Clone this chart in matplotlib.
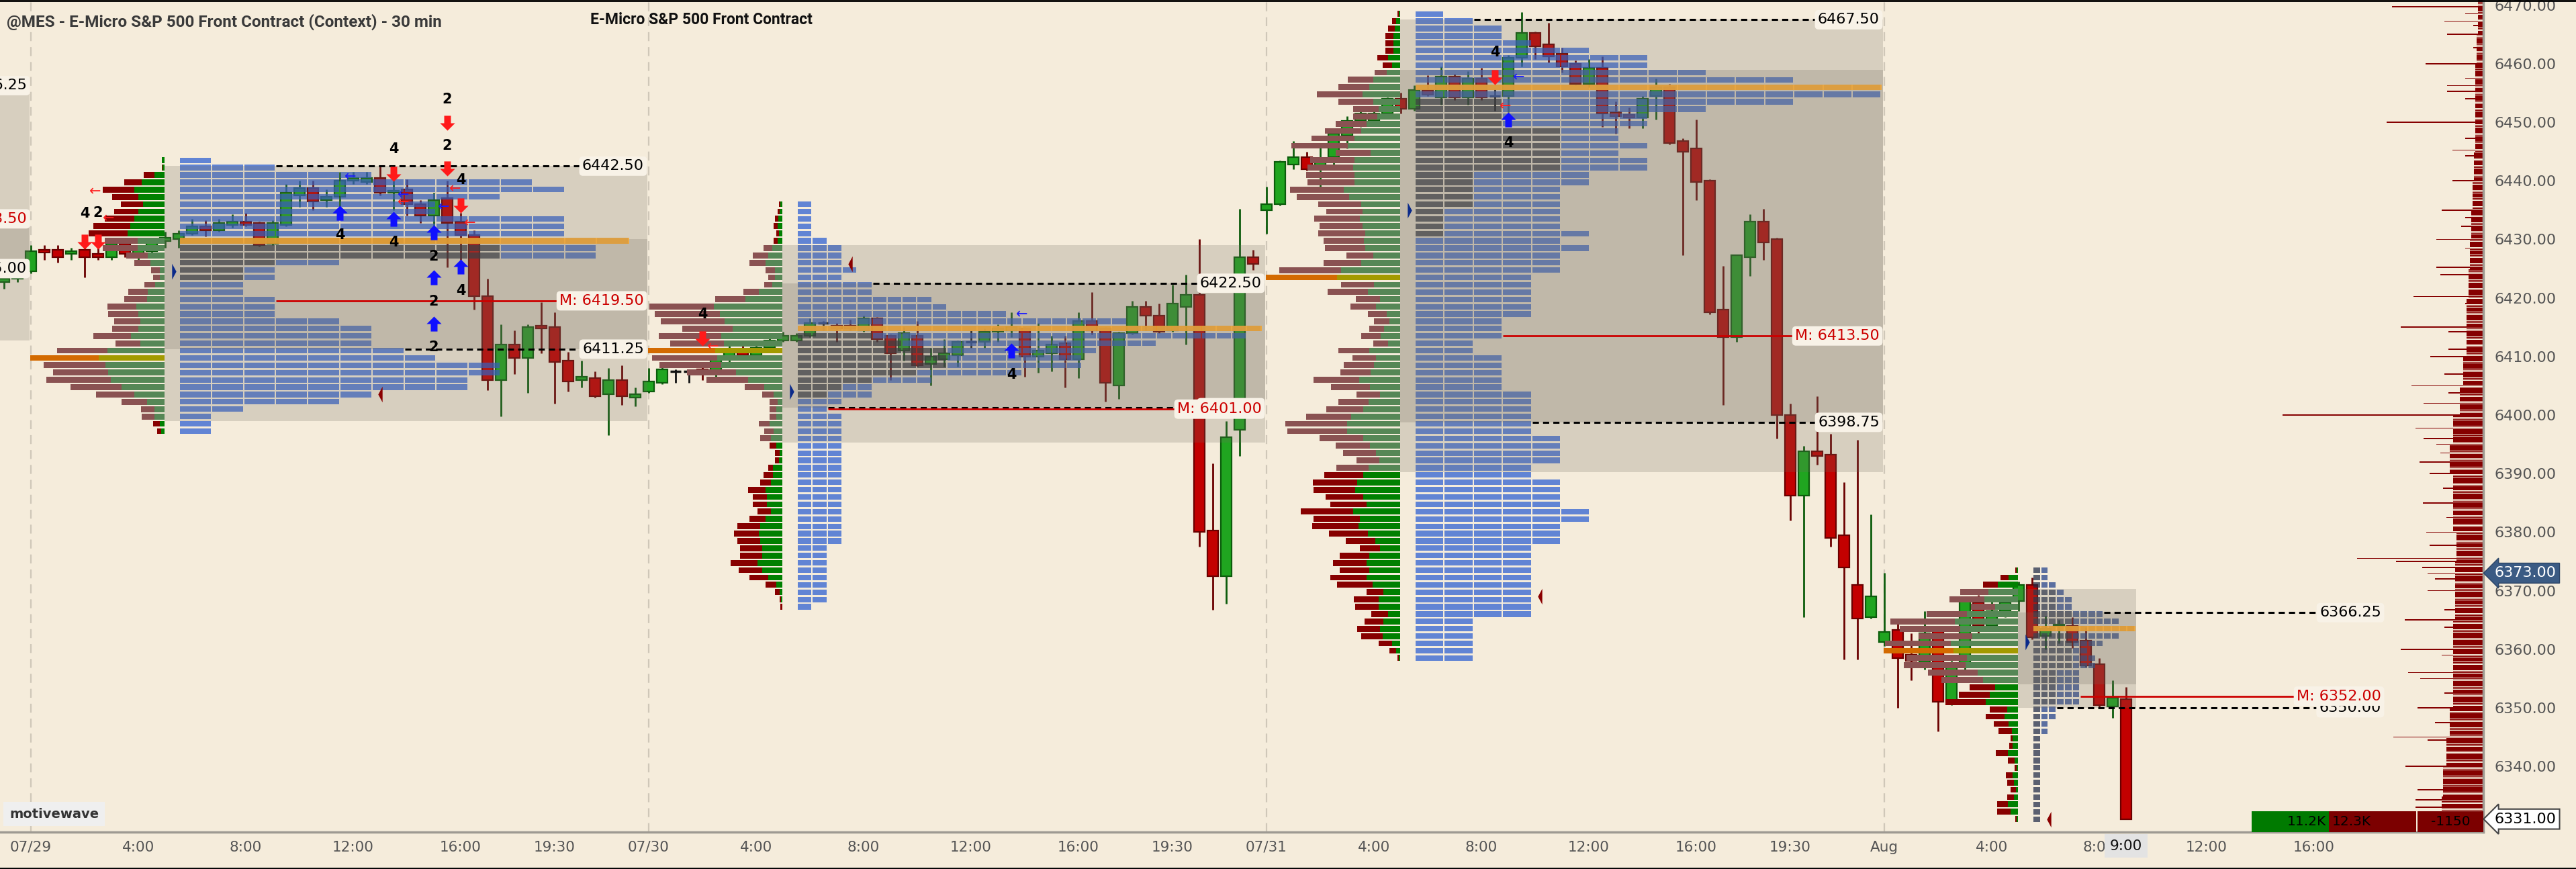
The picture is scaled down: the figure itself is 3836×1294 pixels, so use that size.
import matplotlib
matplotlib.use('Agg')
import matplotlib.pyplot as plt
from matplotlib.path import Path
from matplotlib.patches import Rectangle
from matplotlib.lines import Line2D
from matplotlib.transforms import blended_transform_factory

plt.rcParams['font.family'] = ['DejaVu Sans']

# ======================= DATA =======================
SESSION_START = [-46, 0, 46, 92, 138]          # bar index of each session open (30-min bars)

# candles: (open, high, low, close)
S0_T = [-2, -1]
S0_OHLC = [(6422.75, 6423.5, 6421.5, 6423.25), (6423.25, 6425.0, 6422.75, 6424.5)]

S1_OHLC = [
 (6424.5,6429.0,6424.25,6428.0),(6428.25,6429.0,6426.5,6427.75),(6428.25,6429.0,6426.0,6427.0),
 (6427.5,6428.5,6426.5,6428.0),(6428.25,6428.5,6423.5,6427.0),(6427.5,6428.5,6426.5,6427.0),
 (6427.0,6429.5,6426.5,6429.25),(6429.25,6429.75,6427.0,6427.5),(6427.5,6428.75,6425.75,6428.75),
 (6428.0,6430.0,6427.5,6429.75),(6429.75,6431.25,6428.5,6430.25),(6430.0,6431.5,6428.5,6431.0),
 (6431.0,6433.5,6430.75,6432.25),(6432.25,6433.25,6430.5,6431.5),(6431.5,6433.5,6431.25,6432.75),
 (6432.5,6434.25,6432.0,6433.0),(6433.0,6434.5,6432.25,6432.5),(6432.75,6433.0,6428.75,6429.0),
 (6429.25,6433.25,6429.0,6432.75),(6432.5,6439.5,6432.25,6438.0),(6437.5,6440.0,6435.5,6438.75),
 (6438.75,6440.0,6435.0,6436.5),(6436.75,6438.5,6435.5,6437.25),(6437.25,6441.5,6435.5,6440.0),
 (6440.0,6441.5,6439.5,6440.5),(6439.75,6441.5,6439.5,6440.5),(6440.5,6442.5,6437.5,6438.0),
 (6438.0,6440.0,6435.0,6438.25),(6438.5,6440.25,6434.0,6436.0),(6436.0,6436.75,6432.75,6434.0),
 (6434.0,6438.0,6430.0,6436.75),(6437.0,6440.0,6425.25,6432.75),(6433.0,6434.5,6426.5,6430.75),
 (6430.75,6431.5,6418.0,6420.25),(6420.25,6423.25,6404.25,6406.0),(6406.0,6415.5,6399.75,6412.0),
 (6412.0,6414.5,6407.0,6409.75),(6409.75,6415.5,6403.75,6415.0),(6415.25,6419.25,6410.5,6414.75),
 (6415.0,6417.5,6402.0,6409.0),(6409.25,6410.75,6404.0,6405.75),(6406.0,6409.25,6404.75,6406.5),
 (6406.25,6407.5,6403.0,6403.25),(6403.5,6408.0,6396.5,6406.0),(6406.0,6408.5,6401.75,6403.25),
 (6403.0,6404.75,6401.5,6403.5)]

S2_OHLC = [
 (6404.0,6408.0,6403.75,6405.75),(6405.5,6408.75,6405.25,6407.75),(6407.5,6407.75,6405.5,6407.5),
 (6407.5,6407.75,6405.5,6407.5),(6407.75,6409.0,6406.0,6407.0),(6407.0,6410.0,6406.5,6409.5),
 (6409.5,6412.0,6408.5,6411.25),(6411.25,6412.5,6409.5,6410.25),(6410.25,6412.5,6409.75,6411.5),
 (6411.5,6413.25,6411.0,6412.75),(6412.75,6414.25,6412.5,6413.5),(6412.75,6414.0,6412.5,6413.5),
 (6413.5,6416.5,6413.25,6415.75),(6415.75,6416.0,6414.5,6415.75),(6415.25,6415.75,6412.5,6414.75),
 (6415.25,6416.25,6414.5,6414.75),(6414.5,6417.0,6414.25,6416.5),(6416.5,6416.75,6412.5,6413.0),
 (6413.5,6413.75,6406.0,6410.5),(6411.0,6415.0,6409.25,6414.0),(6413.5,6416.0,6408.25,6408.5),
 (6408.75,6411.5,6405.0,6410.0),(6409.5,6413.0,6408.25,6410.5),(6410.25,6412.75,6408.25,6412.5),
 (6412.5,6414.5,6411.5,6412.5),(6412.5,6414.75,6411.5,6414.25),(6414.25,6415.5,6412.5,6414.75),
 (6414.5,6417.5,6413.25,6415.0),(6414.75,6415.0,6406.5,6410.0),(6410.0,6415.75,6407.25,6411.0),
 (6410.5,6413.5,6407.5,6412.0),(6412.25,6413.5,6404.75,6409.5),(6409.5,6417.5,6406.25,6416.0),
 (6416.0,6421.0,6413.75,6414.5),(6414.75,6415.0,6402.25,6405.5),(6405.0,6414.25,6402.75,6414.0),
 (6414.0,6419.5,6413.75,6418.5),(6418.5,6419.5,6414.5,6417.0),(6417.0,6419.0,6414.0,6414.25),
 (6414.5,6422.25,6414.25,6419.0),(6418.5,6424.0,6412.0,6420.5),(6420.5,6430.0,6377.5,6380.0),
 (6380.25,6391.75,6366.75,6372.5),(6372.5,6399.0,6367.75,6396.25),(6397.5,6435.25,6393.0,6427.0),
 (6427.0,6428.25,6424.75,6425.75)]

S3_OHLC = [
 (6435.0,6439.0,6431.0,6436.0),(6436.0,6443.5,6435.75,6443.25),(6442.75,6446.75,6442.0,6444.0),
 (6444.0,6445.0,6441.75,6442.0),(6442.0,6445.75,6439.0,6443.5),(6444.0,6448.25,6442.5,6448.0),
 (6447.75,6451.0,6445.5,6450.25),(6450.25,6452.0,6449.25,6451.5),(6450.25,6452.0,6449.5,6451.5),
 (6451.5,6454.25,6451.0,6454.0),(6454.0,6455.0,6451.5,6452.25),(6452.25,6456.25,6452.0,6455.5),
 (6455.5,6458.0,6454.5,6454.75),(6454.25,6459.5,6453.0,6457.75),(6457.75,6458.25,6453.75,6454.25),
 (6454.25,6458.75,6453.0,6457.5),(6457.5,6459.25,6453.75,6454.25),(6454.5,6455.75,6452.0,6454.5),
 (6454.5,6461.5,6451.75,6461.0),(6461.0,6468.75,6459.5,6465.25),(6465.25,6465.5,6460.75,6463.0),
 (6463.25,6467.0,6460.25,6461.25),(6461.75,6462.75,6458.5,6459.5),(6460.0,6460.5,6456.25,6456.5),
 (6456.5,6460.75,6456.0,6459.25),(6459.25,6461.25,6449.25,6451.5),(6451.75,6453.5,6448.0,6451.0),
 (6451.25,6452.5,6449.0,6450.75),(6450.75,6454.5,6449.0,6454.0),(6454.5,6457.5,6450.5,6456.0),
 (6456.0,6456.5,6446.25,6446.5),(6446.75,6447.25,6427.25,6445.0),(6445.5,6450.5,6436.75,6439.75),
 (6440.0,6440.25,6417.25,6417.5),(6418.0,6425.5,6401.75,6413.25),(6413.25,6427.25,6412.5,6427.25),
 (6427.0,6434.25,6423.75,6433.0),(6433.0,6435.25,6426.5,6429.5),(6430.0,6430.25,6396.0,6400.0),
 (6400.0,6402.0,6382.0,6386.25),(6386.25,6394.75,6365.5,6393.75),(6393.75,6403.25,6391.5,6393.0),
 (6393.25,6396.75,6377.5,6379.0),(6379.5,6388.5,6358.25,6374.0),(6371.0,6395.75,6358.25,6365.25),
 (6365.5,6383.0,6365.25,6369.0)]

S4_OHLC = [
 (6361.25,6373.0,6360.5,6363.0),(6363.25,6364.5,6350.0,6358.5),(6359.0,6362.75,6354.75,6358.0),
 (6357.75,6366.5,6356.5,6362.75),(6363.25,6364.0,6346.0,6351.0),(6351.0,6358.0,6350.5,6357.5),
 (6357.5,6369.0,6356.0,6368.5),(6368.0,6369.25,6362.5,6364.0),(6364.0,6368.75,6363.5,6366.5),
 (6366.5,6369.0,6365.5,6368.0),(6368.25,6371.5,6366.5,6371.0),(6371.0,6372.25,6361.75,6362.0),
 (6362.25,6365.75,6360.0,6363.5),(6364.0,6365.0,6361.0,6364.25),(6364.0,6365.5,6360.25,6361.25),
 (6361.5,6363.75,6357.0,6357.25),(6357.5,6358.5,6350.0,6350.5),(6350.25,6354.75,6348.25,6351.75),
 (6351.5,6353.5,6331.0,6331.0)]

# volume profiles (sell / buy per 1.25-pt row, top row price given)
S1_TOP = 6443.5
S1_SELL = [0,1,19,31,57,47,40,44,53,66,69,58,62,38,28,15,12,19,34,40,52,54,47,47,68,44,90,123,111,99,116,92,68,45,24,22,12,8]
S1_BUY  = [4,3,18,40,53,46,38,46,53,61,66,48,48,30,25,8,8,16,30,31,50,46,43,46,59,43,102,117,105,100,95,76,54,31,18,18,8,5]
S1_TPO  = [1,3,6,11,12,10,8,8,12,12,12,14,13,13,5,3,3,2,2,3,3,3,5,6,6,6,7,8,10,10,9,9,6,5,2,1,1,1]
S1_TPO_DARK = [0]*11 + [10,10,10,3,2,2] + [0]*21

S2_TOP = 6436.0
S2_SELL = [3,4,7,9,5,8,21,37,38,22,16,18,37,71,151,153,148,117,146,125,158,153,143,116,97,47,28,18,15,16,25,22,25,16,10,8,10,22,25,41,34,34,31,38,53,59,53,51,51,63,54,44,25,10,3,4]
S2_BUY  = [4,6,9,11,8,11,23,32,38,16,16,23,54,86,160,145,135,116,143,136,156,151,143,107,79,41,19,11,14,13,29,19,26,13,6,8,22,22,26,38,35,35,26,38,51,54,51,47,47,57,47,32,13,6,3,0]
S2_TPO  = [1,1,1,1,1,2,3,3,3,4,3,5,5,9,10,14,22,31,30,24,20,19,19,15,9,5,5,3,2,3,3,3,3,3,3,3,3,3,3,3,3,3,3,3,3,3,3,2,2,2,2,2,2,2,2,1]
S2_TPO_DARK = [0]*18 + [5,7,10,10,10,8,5,3,2] + [0]*29

S3_TOP = 6468.5
S3_SELL = [6,18,30,36,36,36,48,42,54,114,138,204,156,114,108,138,162,192,252,156,198,204,216,210,240,234,192,162,204,192,210,180,180,120,168,276,318,
           148,178,107,115,85,67,67,89,67,137,104,137,137,204,174,104,133,167,200,274,266,196,155,148,100,144,
           174,199,186,168,163,233,205,205,174,132,90,132,151,132,163,161,77,109,103,73,84,101,96,59,31,6]
S3_BUY  = [6,18,24,30,30,30,54,36,60,120,138,168,120,96,102,150,174,204,234,132,204,210,204,204,252,228,174,168,180,168,156,162,156,120,174,264,282,
           115,144,89,107,59,48,70,85,52,137,107,115,130,181,133,89,141,163,218,237,237,163,133,107,93,141,
           163,191,199,163,149,210,180,186,143,109,90,138,149,138,149,121,73,96,96,54,73,90,78,36,17,6]
S3_TPO  = [1,2,3,3,4,6,8,8,10,13,16,16,13,10,8,8,7,7,8,7,8,8,6,6,5,5,5,5,5,5,6,5,6,5,5,5,4,4,4,4,4,4,3,3,3,2,2,3,3,3,3,3,4,4,4,4,4,4,5,5,5,5,4,
           4,5,5,5,5,6,6,5,5,5,4,4,4,4,4,4,4,4,4,4,2,2,2,2,2,2]
S3_TPO_DARK = [0]*12 + [3]*4 + [5]*6 + [2]*5 + [1]*4 + [0]*58

S4_TOP = 6373.5
S4_SELL = [6,36,66,126,156,108,180,288,270,240,294,312,270,276,222,186,114,138,180,78,84,66,59,11,17,54,28,11,30,30,22,30,48,59,7]
S4_BUY  = [6,42,90,132,150,102,228,282,258,204,300,288,228,234,180,156,102,126,144,48,60,42,26,22,22,43,15,4,22,17,9,17,43,33,4]
S4_TPO  = [2,2,3,4,5,5,9,11,13,11,9,7,8,8,6,6,6,6,6,3,3,2,2,1,1,1,1,1,1,1,1,1,1,1,1]
S4_TPO_DARK = [1,1,1,3,3,3,5,5,5,5,5,5,5,5,3,3,3,3,3,1,1,1,1,1,1,1,1,1,1,1,1,1,1,1,1]

# value areas: volume VA and TPO VA (low, high)
VA_VOL = [(6412.75, 6433.5), (6399.0, 6430.0), (6395.25, 6429.0), (6390.25, 6459.0), (6354.0, 6370.25)]
VA_TPO = [(6425.0, 6456.25), (6411.25, 6442.5), (6401.25, 6422.5), (6398.75, 6467.5), (6350.0, 6366.25)]
S0_MID = 6433.5

# signals: (bar, price, kind)
SIGNALS = [
 (4,6434.4,'n4'),(5,6434.5,'n2'),(4,6429.6,'dn'),(5,6429.6,'dn'),(4.8,6438.1,'lr'),(5.8,6433.5,'lr'),
 (23,6434.5,'up'),(23,6430.7,'n4'),(23.8,6440.7,'lb'),
 (27,6445.4,'n4'),(27,6441.2,'dn'),(27,6433.5,'up'),(27,6429.5,'n4'),(27.75,6437.6,'lb'),(27.75,6436.3,'lr'),
 (31,6453.9,'n2'),(31,6449.9,'dn'),(31,6446.0,'n2'),(31,6442.1,'dn'),
 (32,6440.1,'n4'),(31.6,6438.6,'lr'),(32,6435.8,'dn'),(32.7,6432.7,'lr'),(30.75,6435.5,'lb'),
 (30,6431.2,'up'),(30,6427.1,'n2'),(30,6423.5,'up'),(32,6425.3,'up'),(32,6421.2,'n4'),
 (30,6419.4,'n2'),(30,6415.6,'up'),(30,6411.6,'n2'),
 (50,6417.2,'n4'),(50,6413.1,'dn'),(50.8,6411.7,'lr'),(73.8,6417.1,'lb'),(73,6411.0,'up'),(73,6406.9,'n4'),
 (109,6461.9,'n4'),(109,6457.7,'dn'),(110.8,6457.6,'lb'),(109.8,6452.75,'lr'),(110,6450.5,'up'),(110,6446.4,'n4')]

# composite volume profile at right edge
RP_BIN_LO = list(range(6330, 6470, 5))
RP_BASE = [62,60,55,50,45,45,45,42,42,40,45,45,50,45,35,30,25,25,22,20,18,16,14,12,12,12,10,8]
RP_SPIKE_P = [6469.75,6468.5,6467.25,6466.5,6465,6462.75,6460,6457.5,6456.25,6455.25,6454,6450,6447.25,6445.25,6444.25,
              6440,6439,6435,6433.75,6432.25,6430,6428.5,6425.25,6424,6420.25,6419,6415,6414.25,6411.25,6410,6407,6405,
              6403.75,6402,6400,6397.75,6396,6395,6393.5,6392,6390,6387.5,6385,6382.5,6380,
              6377.75,6375.5,6375,6374,6373,6372,6370,6366.75,6365,6363.75,6360,6359,6356,6355,6352.5,6350,6347.5,6345,
              6344.5,6340,6336,6334.25,6333]
RP_SPIKE_V = [136,27,58,15,54,15,86,27,54,54,27,144,27,46,27,46,15,62,27,33,70,27,70,64,104,27,123,52,52,79,58,107,
              52,89,299,101,89,70,64,95,80,60,90,55,85,
              80,188,130,91,83,72,83,58,117,58,123,62,112,94,58,98,72,134,83,116,98,101,101]

VOL_BUY_TOTAL, VOL_SELL_TOTAL, VOL_DELTA = '11.2K', '12.3K', '-1150'
LAST_PRICE, MARKED_PRICE = 6331.00, 6373.00

T_TICKS = [0,8,16,24,32,39,46,54,62,70,78,85,92,100,108,116,124,131,138,146,154,162,170]
T_LABELS = ['07/29','4:00','8:00','12:00','16:00','19:30','07/30','4:00','8:00','12:00','16:00','19:30',
            '07/31','4:00','8:00','12:00','16:00','19:30','Aug','4:00','8:00','12:00','16:00']
CUR_T, CUR_LABEL = 156, '9:00'
Y_TICKS = list(range(6340, 6471, 10))

# ======================= STYLE / LAYOUT =======================
BG = '#f5ecdb'
W, H, DPI = 3836, 1294, 100
PLOT_R, PLOT_B = 3698, 1239
ROW = 1.25
TPO_OFF, VP_OFF = 11.1, 9.93
TPO_BW = [None, 2.39, 1.115, 2.17, 0.585]
TPO_LIGHT = [None, '#285cd2', '#285cd2', '#285cd2', '#1f3f8a']
TPO_DARK = [None, '#1e2333', '#1e2333', '#1e2333', '#1f2a47']
RECT_END = [45.9, 45.9, 45.9, 45.9, 18.75]
LABEL_X = [-0.3, 45.65, 45.65, 45.65, 37.0]
LFS = 16

fig = plt.figure(figsize=(W / DPI, H / DPI), dpi=DPI, facecolor=BG)
ax = fig.add_axes([0, (H - PLOT_B) / H, PLOT_R / W, PLOT_B / H])
ax.set_facecolor(BG)
X0 = -2.3
X1 = X0 + PLOT_R / 20.0
ax.set_xlim(X0, X1)
ax.set_ylim(6328.78, 6470.87)

for s in ('top', 'left'):
    ax.spines[s].set_visible(False)
for s in ('bottom', 'right'):
    ax.spines[s].set_color('#9e9a92')
    ax.spines[s].set_linewidth(2.5)

# session separators
for st in SESSION_START[1:]:
    ax.axvline(st, color='#cfc7b8', lw=1.6, ls=(0, (6, 4)), zorder=1)


def draw_candles(times, ohlc):
    for t, (o, h, l, c) in zip(times, ohlc):
        if c > o:
            body, edge = '#20a520', '#0c5c0c'
        elif c < o:
            body, edge = '#c30000', '#6a0000'
        else:
            body, edge = '#111111', '#111111'
        ax.vlines(t, l, h, color=edge, lw=2.0, zorder=2)
        if c == o:
            ax.hlines(o, t - 0.38, t + 0.38, color=edge, lw=2.5, zorder=2)
        else:
            ax.bar(t, abs(c - o), bottom=min(o, c), width=0.8, color=body,
                   edgecolor=edge, linewidth=1.6, zorder=2)


def row_index(top, price, n):
    k = int(round((top - price) / ROW))
    return max(0, min(n - 1, k))


def draw_vol_profile(st, top, sell, buy, va_vol):
    anchor = st + VP_OFF
    tot = [a + b for a, b in zip(sell, buy)]
    k = 10.0 / max(tot)
    poc = tot.index(max(tot))
    ys, bw_, sw_, cb, cs = [], [], [], [], []
    for i, (sv, bv) in enumerate(zip(sell, buy)):
        p = top - ROW * i
        if i == poc:
            c_s, c_b = '#d36a00', '#a39a00'
        elif va_vol[0] - 0.3 <= p <= va_vol[1] + 0.3:
            c_s, c_b = '#8a5252', '#568756'
        else:
            c_s, c_b = '#870000', '#008000'
        ys.append(p); bw_.append(bv * k); sw_.append(sv * k); cb.append(c_b); cs.append(c_s)
    ax.barh(ys, bw_, left=[anchor - w for w in bw_], height=1.0, color=cb, linewidth=0, zorder=3)
    ax.barh(ys, sw_, left=[anchor - a - b for a, b in zip(bw_, sw_)], height=1.0, color=cs,
            linewidth=0, zorder=3)


def draw_tpo(st, top, counts, dark, bw, light, darkc):
    x0 = st + TPO_OFF
    lefts, ys, cols = [], [], []
    for i, (n, d) in enumerate(zip(counts, dark)):
        p = top - ROW * i
        for j in range(n):
            lefts.append(x0 + j * bw); ys.append(p)
            cols.append(darkc if j < d else light)
    ax.barh(ys, bw - 0.1, left=lefts, height=0.95, color=cols, alpha=0.72, linewidth=0, zorder=3)
    poc = counts.index(max(counts))
    ax.barh(top - ROW * poc, counts[poc] * bw, left=x0, height=0.95, color='#f2a530', alpha=0.85,
            linewidth=0, zorder=5)
    return x0


def va_overlay(x0, x1, va_vol, va_tpo):
    for lo, hi in (va_vol, va_tpo):
        ax.add_patch(Rectangle((x0, lo), x1 - x0, hi - lo, fc='#6f6a5e', ec='none', alpha=0.22, zorder=4))


def price_label(x, p, text, color='black'):
    ax.text(x, p, text, ha='right', va='center', fontsize=LFS, color=color, zorder=8,
            bbox=dict(boxstyle='round,pad=0.2,rounding_size=0.25', fc='#f8f2e7', ec='none'))


# arrow / triangle markers
DN = Path([(-0.45, 1.0), (0.45, 1.0), (0.45, 0.0), (1.0, 0.0), (0.0, -1.0), (-1.0, 0.0), (-0.45, 0.0), (-0.45, 1.0)],
          [1, 2, 2, 2, 2, 2, 2, 79])
UP = Path([(x, -y) for x, y in DN.vertices], DN.codes)
TRI_R = Path([(-0.27, 1.0), (0.27, 0.0), (-0.27, -1.0), (-0.27, 1.0)], [1, 2, 2, 79])
TRI_L = Path([(0.27, 1.0), (-0.27, 0.0), (0.27, -1.0), (0.27, 1.0)], [1, 2, 2, 79])

# ---- previous session remnant ----
draw_candles(S0_T, S0_OHLC)
va_overlay(X0, -0.1, VA_VOL[0], VA_TPO[0])
price_label(LABEL_X[0], VA_TPO[0][1], f'{VA_TPO[0][1]:.2f}')
price_label(LABEL_X[0], S0_MID, f'M: {S0_MID:.2f}', '#cc0000')
price_label(LABEL_X[0], VA_TPO[0][0], f'{VA_TPO[0][0]:.2f}')

SESS = [
    (S1_OHLC, S1_TOP, S1_SELL, S1_BUY, S1_TPO, S1_TPO_DARK),
    (S2_OHLC, S2_TOP, S2_SELL, S2_BUY, S2_TPO, S2_TPO_DARK),
    (S3_OHLC, S3_TOP, S3_SELL, S3_BUY, S3_TPO, S3_TPO_DARK),
    (S4_OHLC, S4_TOP, S4_SELL, S4_BUY, S4_TPO, S4_TPO_DARK),
]

for si, (ohlc, top, sell, buy, tpo, dark) in enumerate(SESS, start=1):
    st = SESSION_START[si]
    draw_candles([st + i for i in range(len(ohlc))], ohlc)
    draw_vol_profile(st, top, sell, buy, VA_VOL[si])
    bw = TPO_BW[si]
    x0 = draw_tpo(st, top, tpo, dark, bw, TPO_LIGHT[si], TPO_DARK[si])
    va_overlay(st + VP_OFF, st + RECT_END[si], VA_VOL[si], VA_TPO[si])
    hi = max(c[1] for c in ohlc)
    lo = min(c[2] for c in ohlc)
    mid = round((hi + lo) / 2 * 4) / 4
    lx = st + LABEL_X[si]

    def row_end(p):
        return x0 + tpo[row_index(top, p, len(tpo))] * bw

    # TPO value area lines (dashed) and midpoint (red)
    va_lo, va_hi = VA_TPO[si]
    ax.hlines(va_hi, row_end(va_hi), lx, colors='black', lw=2.2, linestyles=(0, (3, 2)), zorder=6)
    ax.hlines(va_lo, row_end(va_lo), lx, colors='black', lw=2.2, linestyles=(0, (3, 2)), zorder=6)
    ax.hlines(mid, row_end(mid), lx, colors='#cc0000', lw=2.0, zorder=6)
    price_label(lx, va_hi, f'{va_hi:.2f}')
    price_label(lx, va_lo, f'{va_lo:.2f}')
    price_label(lx, mid, f'M: {mid:.2f}', '#cc0000')
    # open / close markers
    o = ohlc[0][0]
    c = ohlc[-1][3]
    ax.plot(st + 10.65, o, marker=TRI_R, ms=17, color='#0b2a8a', mec='none', zorder=6, ls='none')
    ax.plot(row_end(c) + 0.55, c, marker=TRI_L, ms=17, color='#8b0000', mec='none', zorder=6, ls='none')

# signals
for t, p, k in SIGNALS:
    if k == 'dn':
        ax.plot(t, p, marker=DN, ms=16, color='#ff1a1a', mec='none', ls='none', zorder=9)
    elif k == 'up':
        ax.plot(t, p, marker=UP, ms=16, color='#1010ff', mec='none', ls='none', zorder=9)
    elif k == 'lr':
        ax.text(t, p, '\u2190', color='#ff2020', fontsize=15, ha='center', va='center', zorder=9)
    elif k == 'lb':
        ax.text(t, p, '\u2190', color='#1a1aff', fontsize=15, ha='center', va='center', zorder=9)
    else:
        ax.text(t, p, k[1], color='black', fontsize=15, fontweight='bold', ha='center', va='center', zorder=9)

# composite profile at right edge
ticks = [6329.0 + 0.25 * i for i in range(int((6470.75 - 6329.0) / 0.25) + 1)]
spikes = dict(zip(RP_SPIKE_P, RP_SPIKE_V))
rp_w = []
for p in ticks:
    b = max(0, min(len(RP_BASE) - 1, int((p - RP_BIN_LO[0]) // 5)))
    rp_w.append(max(RP_BASE[b], spikes.get(p, 0)) / 20.0)
ax.barh(ticks, rp_w, left=[X1 - w for w in rp_w], height=0.19, color='#850000', linewidth=0, zorder=2)

# bottom-right volume boxes
yb0, yb1 = 6328.78, 6332.3
ax.add_patch(Rectangle((165.33, yb0), 5.75, yb1 - yb0, fc='#007a00', ec='none', zorder=7))
ax.add_patch(Rectangle((171.08, yb0), 6.52, yb1 - yb0, fc='#7c0000', ec='none', zorder=7))
ax.add_patch(Rectangle((177.7, yb0), X1 - 177.7, yb1 - yb0, fc='#7c0000', ec='none', zorder=7))
ax.text(170.9, (yb0 + yb1) / 2, VOL_BUY_TOTAL, ha='right', va='center', fontsize=14.5, color='black', zorder=8)
ax.text(171.35, (yb0 + yb1) / 2, VOL_SELL_TOTAL, ha='left', va='center', fontsize=14.5, color='black', zorder=8)
ax.text((177.7 + X1) / 2, (yb0 + yb1) / 2, VOL_DELTA, ha='center', va='center', fontsize=14.5, color='black', zorder=8)

# axes ticks
ax.set_xticks(T_TICKS)
ax.set_xticklabels(T_LABELS)
ax.tick_params(axis='x', length=0, pad=9, labelsize=15.5, labelcolor='#555555')
ax.yaxis.tick_right()
ax.set_yticks(Y_TICKS)
ax.set_yticklabels([f'{v:.2f}' for v in Y_TICKS])
ax.tick_params(axis='y', length=0, pad=12, labelsize=16, labelcolor='#555555')
ax.text(CUR_T, 6328.78 - 1.25, CUR_LABEL, ha='center', va='top', fontsize=15.5,
        color='#111111', zorder=10, clip_on=False,
        bbox=dict(boxstyle='square,pad=0.35', fc='#e3e3e3', ec='none'))

trans = blended_transform_factory(ax.transAxes, ax.transData)
ax.text(1.0045, MARKED_PRICE, f'{MARKED_PRICE:.2f}', transform=trans, ha='left', va='center', fontsize=16,
        color='white', zorder=10, clip_on=False,
        bbox=dict(boxstyle='larrow,pad=0.22', fc='#3b5b84', ec='#2b4466'))
ax.text(1.0045, LAST_PRICE, f'{LAST_PRICE:.2f}', transform=trans, ha='left', va='center', fontsize=16,
        color='black', zorder=10, clip_on=False,
        bbox=dict(boxstyle='larrow,pad=0.22', fc='white', ec='#444444', lw=1.5))

# titles and watermark
fig.text(10 / W, 1 - 33 / H, '@MES - E-Micro S&P 500 Front Contract (Context) - 30 min', family='Roboto',
         fontsize=17.5, fontweight='bold', color='#3a3a3a', va='center', ha='left')
fig.text(879 / W, 1 - 30 / H, 'E-Micro S&P 500 Front Contract', family='Roboto',
         fontsize=16.5, fontweight='bold', color='#111111', va='center', ha='left')
fig.text(14 / W, 1 - 1212 / H, 'motivewave', fontsize=14, fontweight='bold', color='#333333',
         va='center', ha='left', bbox=dict(boxstyle='square,pad=0.45', fc='#efefef', ec='none'))

# frame
fig.add_artist(Line2D([0, 1], [0.999, 0.999], color='black', lw=2, transform=fig.transFigure))
fig.add_artist(Line2D([0, 1], [0.001, 0.001], color='black', lw=2, transform=fig.transFigure))

fig.savefig('out.png', dpi=DPI, facecolor=BG)
